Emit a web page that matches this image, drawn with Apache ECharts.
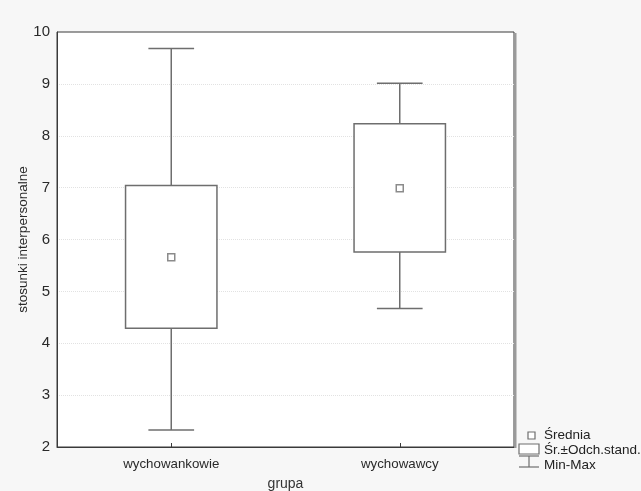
<!DOCTYPE html>
<html>
<head>
<meta charset="utf-8">
<script src="https://cdn.jsdelivr.net/npm/echarts@6/dist/echarts.min.js"></script>
<style>
html,body{margin:0;padding:0;background:#f7f7f7;}
#c{width:641px;height:491px;}
</style>
</head>
<body>
<div id="c"></div>
<script>
var categories = ['wychowankowie', 'wychowawcy'];
var means = [5.66, 6.99];
var sdLow = [4.29, 5.76];
var sdHigh = [7.04, 8.23];
var minVals = [2.33, 4.67];
var maxVals = [9.68, 9.01];
var yTicks = [2, 3, 4, 5, 6, 7, 8, 9, 10];

var FONT = 'Liberation Sans, Arial, sans-serif';
var LINE = '#6e6e6e';

var chart = echarts.init(document.getElementById('c'));

var whiskerData = categories.map(function (c, i) { return [i, minVals[i], maxVals[i]]; });
var boxData = categories.map(function (c, i) { return [i, sdLow[i], sdHigh[i]]; });
var meanData = categories.map(function (c, i) { return [i, means[i]]; });

chart.setOption({
  backgroundColor: '#f7f7f7',
  animation: false,
  grid: {
    left: 57, top: 32, width: 457, height: 415,
    containLabel: false,
    outerBoundsMode: 'none',
    show: true, backgroundColor: '#ffffff', borderColor: '#3a3a3a', borderWidth: 1
  },
  xAxis: {
    type: 'category',
    data: categories,
    name: 'grupa',
    nameLocation: 'middle',
    nameGap: 30,
    nameMoveOverlap: false,
    nameTextStyle: { fontFamily: FONT, fontSize: 14, color: '#333' },
    axisLine: { show: true, lineStyle: { color: '#3a3a3a' } },
    axisTick: { show: true, inside: true, alignWithLabel: true, length: 4, lineStyle: { color: '#3a3a3a' } },
    axisLabel: { fontFamily: FONT, fontSize: 13.3, color: '#2a2a2a', margin: 11 },
    splitLine: { show: false }
  },
  yAxis: {
    type: 'value',
    min: 2, max: 10, interval: 1,
    name: 'stosunki interpersonalne',
    nameLocation: 'middle',
    nameGap: 27,
    nameRotate: 90,
    nameMoveOverlap: false,
    nameTextStyle: { fontFamily: FONT, fontSize: 13.5, color: '#2a2a2a' },
    axisLine: { show: true, lineStyle: { color: '#3a3a3a' } },
    axisTick: { show: false },
    axisLabel: { fontFamily: FONT, fontSize: 15, color: '#2a2a2a', margin: 7,
      formatter: function (v) { return yTicks.indexOf(v) >= 0 ? String(v) : ''; } },
    splitLine: { show: true, showMinLine: false, showMaxLine: false, lineStyle: { color: '#e2e2e2', type: 'dotted' } }
  },
  series: [
    {
      name: 'Min-Max',
      type: 'custom',
      data: whiskerData,
      z: 2,
      renderItem: function (params, api) {
        var x = api.value(0);
        var pMin = api.coord([x, api.value(1)]);
        var pMax = api.coord([x, api.value(2)]);
        var band = api.size([1, 0])[0];
        var half = band * 0.1;
        var st = { stroke: LINE, lineWidth: 1.5 };
        return {
          type: 'group',
          children: [
            { type: 'line', shape: { x1: pMin[0], y1: pMin[1], x2: pMax[0], y2: pMax[1] }, style: st },
            { type: 'line', shape: { x1: pMin[0] - half, y1: pMin[1], x2: pMin[0] + half, y2: pMin[1] }, style: st },
            { type: 'line', shape: { x1: pMax[0] - half, y1: pMax[1], x2: pMax[0] + half, y2: pMax[1] }, style: st }
          ]
        };
      }
    },
    {
      name: 'Śr.±Odch.stand.',
      type: 'custom',
      data: boxData,
      z: 3,
      renderItem: function (params, api) {
        var x = api.value(0);
        var pLo = api.coord([x, api.value(1)]);
        var pHi = api.coord([x, api.value(2)]);
        var band = api.size([1, 0])[0];
        var w = band * 0.4;
        return {
          type: 'rect',
          shape: { x: pLo[0] - w / 2, y: pHi[1], width: w, height: pLo[1] - pHi[1] },
          style: { fill: '#ffffff', stroke: LINE, lineWidth: 1.5 }
        };
      }
    },
    {
      name: 'Średnia',
      type: 'scatter',
      data: meanData,
      z: 4,
      symbol: 'rect',
      symbolSize: 7,
      itemStyle: { color: '#ffffff', borderColor: LINE, borderWidth: 1.5 }
    }
  ],
  graphic: [
    { type: 'line', shape: { x1: 515.5, y1: 33, x2: 515.5, y2: 448 }, style: { stroke: '#9a9a9a', lineWidth: 2 } },
    { type: 'rect', shape: { x: 528, y: 432, width: 7, height: 7 }, style: { fill: '#fff', stroke: LINE, lineWidth: 1.2 } },
    { type: 'text', style: { x: 544, y: 435.5, text: 'Średnia', fontFamily: FONT, fontSize: 13.5, fill: '#222', textVerticalAlign: 'middle' } },
    { type: 'rect', shape: { x: 519, y: 444, width: 20, height: 10 }, style: { fill: '#fff', stroke: LINE, lineWidth: 1.2 } },
    { type: 'text', style: { x: 544, y: 450, text: 'Śr.±Odch.stand.', fontFamily: FONT, fontSize: 13.5, fill: '#222', textVerticalAlign: 'middle' } },
    { type: 'line', shape: { x1: 519, y1: 456, x2: 539, y2: 456 }, style: { stroke: LINE, lineWidth: 1.2 } },
    { type: 'line', shape: { x1: 529, y1: 456, x2: 529, y2: 467 }, style: { stroke: LINE, lineWidth: 1.2 } },
    { type: 'line', shape: { x1: 519, y1: 467, x2: 539, y2: 467 }, style: { stroke: LINE, lineWidth: 1.2 } },
    { type: 'text', style: { x: 544, y: 465, text: 'Min-Max', fontFamily: FONT, fontSize: 13.5, fill: '#222', textVerticalAlign: 'middle' } }
  ]
});
</script>
</body>
</html>
